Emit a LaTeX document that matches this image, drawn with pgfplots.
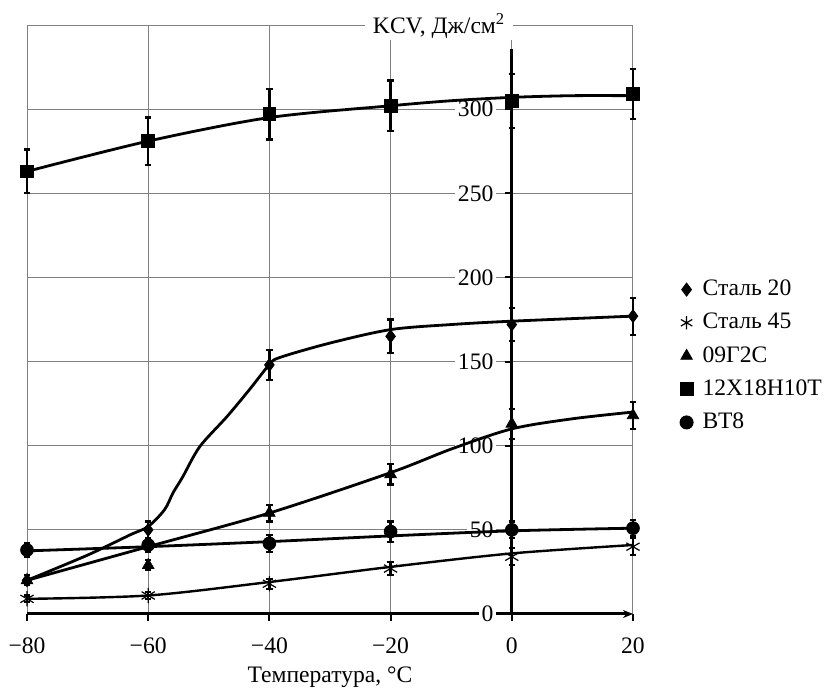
\documentclass[border=0pt]{standalone}
\usepackage{fontspec}
\setmainfont{Liberation Serif}
\usepackage{pgfplots}
\usepackage{pgfplotstable}
\pgfplotsset{compat=1.18}
\usetikzlibrary{arrows.meta}

% measured points with error half-widths
\pgfplotstableread{
x y e
-80 20 3
-60 50 5
-40 148 9
-20 165 10
0 172 10
20 177 11
}\stalA
\pgfplotstableread{
x y e
-80 9 2
-60 11 2
-40 18 3
-20 27 4
0 34 5
20 40 5
}\stalB
\pgfplotstableread{
x y e
-80 20 3
-60 29 3
-40 60 5
-20 83 6
0 113 9
20 118 8
}\gtwoc
\pgfplotstableread{
x y e
-80 263 13
-60 281 14
-40 297 15
-20 302 15
0 305 16
20 309 15
}\xn
\pgfplotstableread{
x y e
-80 38 4
-60 41 4
-40 42 5
-20 49 6
0 50 5
20 51 5
}\vt

\pgfplotsset{
  layers/labtop/.define layer set={axis background,axis grid,axis ticks,axis lines,main,axis tick labels,axis descriptions,axis foreground}{},
  curve/.style={line width=1.4pt, black, smooth, no marks, forget plot},
  pts/.style={only marks, black, mark options={solid, fill=black},
    error bars/y dir=both, error bars/y explicit,
    error bars/error bar style={line width=1.3pt, black},
    error bars/error mark options={rotate=90, mark size=1.6pt, line width=1.1pt, black}},
}
\newcommand\fs{\fontsize{11.8}{14}\selectfont}

\begin{document}
\fs
\begin{tikzpicture}
\begin{axis}[
  set layers=labtop,
  scale only axis, width=303pt, height=294.5pt,
  xmin=-80, xmax=20, ymin=0, ymax=350,
  axis lines=middle,
  hide obscured x ticks=false, hide obscured y ticks=false,
  xtick={-80,-60,-40,-20,0,20},
  xticklabels={−80,−60,−40,−20,0,20},
  ytick={0,50,100,150,200,250,300},
  yticklabels={0,50,100,150,200,250,300},
  grid=major, grid style={line width=0.5pt, black!50},
  x axis line style={line width=1.5pt, -{Stealth[length=5pt,width=4pt]}},
  y axis line style={draw=none},
  tick align=outside,
  major tick length=3.5pt,
  tick style={line width=1pt, black},
  yticklabel style={fill=white, inner sep=1.5pt, xshift=-4pt},
  xticklabel style={anchor=base, yshift=-16.5pt},
  tick label style={font=\fs},
  xlabel={Температура, °C},
  every axis x label/.style={at={(axis description cs:0.5,0)}, anchor=base, yshift=-34.5pt, font=\fs},
  clip=false,
  legend cell align=left,
  legend style={draw=none, fill=none, at={(axis description cs:1,0.438)}, anchor=west, xshift=23.5pt,
    inner sep=0pt, outer sep=0pt, row sep=3pt, font=\fs,
    nodes={inner sep=2pt, outer sep=0pt}},
  legend image code/.code={\draw[#1, mark size=3.3pt] plot coordinates {(0pt,0pt)}; \path[draw=none] (0pt,0pt) -- (6pt,0pt);},
]
\coordinate (sw) at (axis cs:-80,0);
\draw[black!50, line width=0.5pt] (axis cs:-80,350) -- (axis cs:20,350);

% fitted curves
\addplot[curve] coordinates {(-80,263) (-60,281) (-40,295) (-20,302) (-10,305) (0,307) (10,308) (20,308)};
\addplot[curve] coordinates {(-80,20) (-70,35) (-63,47) (-60,52) (-57.3,62) (-55.9,72) (-54.3,81.5) (-51.5,99.4) (-47,117.3) (-43.3,133.3) (-40,148.2) (-38.3,152.4) (-30,161) (-20,169) (-10,172) (0,174) (20,177)};
\addplot[curve] coordinates {(-80,20) (-60,40) (-40,60) (-20,84) (-10,98) (0,110) (10,116) (20,120)};
\addplot[curve] coordinates {(-80,37.5) (-60,40) (-40,43) (-20,46.4) (0,49.4) (20,51)};
\addplot[curve, line width=1.2pt] coordinates {(-80,9) (-60,11) (-40,19) (-20,28) (0,36) (20,41)};

\draw[line width=1.5pt] (axis cs:0,0) -- (axis cs:0,336);

% measured points
\addplot[pts, mark=diamond*, mark size=3.2pt] table[x=x, y=y, y error=e]{\stalA};
\addlegendentry{Сталь 20}
\addplot[pts, mark=asterisk, mark size=3.8pt, mark options={line width=0.6pt}] table[x=x, y=y, y error=e]{\stalB};
\addlegendentry{Сталь 45}
\addplot[pts, mark=triangle*, mark size=3.3pt] table[x=x, y=y, y error=e]{\gtwoc};
\addlegendentry{09Г2С}
\addplot[pts, mark=square*, mark size=3.2pt] table[x=x, y=y, y error=e]{\xn};
\addlegendentry{12Х18Н10Т}
\addplot[pts, mark=*, mark size=3.2pt] table[x=x, y=y, y error=e]{\vt};
\addlegendentry{ВТ8}

\node[fill=white, inner xsep=4pt, inner ysep=1pt, anchor=base, yshift=-4pt] at (axis cs:-12,350) {KCV, Дж/см\textsuperscript{2}};
\end{axis}
\path (sw) ++(-13.5pt,-37pt) rectangle ++(413pt,344pt);
\end{tikzpicture}
\end{document}
